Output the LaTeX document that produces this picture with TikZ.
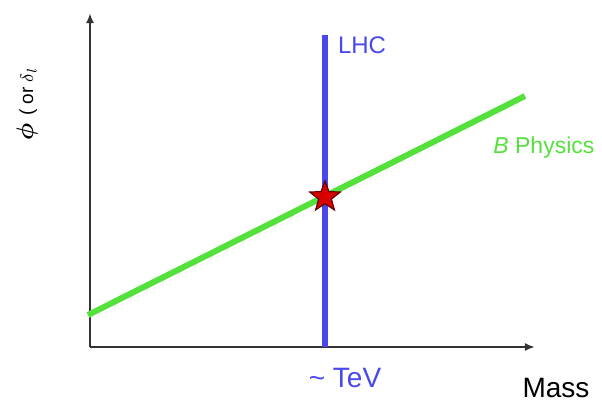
\documentclass[tikz,border=0pt]{standalone}
\usepackage{amsmath}
\usepackage{fontspec}
\setmainfont{Liberation Sans}
\usetikzlibrary{shapes.geometric,arrows.meta}

\definecolor{lhcblue}{RGB}{72,72,235}
\definecolor{bgreen}{RGB}{85,225,60}

\tikzset{
  axis/.style={draw=black!80,line width=1pt,-{Latex[length=5pt,width=4pt]}},
  lhcline/.style={draw=lhcblue,line width=2.6pt},
  bline/.style={draw=bgreen,line width=3pt},
}

\begin{document}
\begin{tikzpicture}[x=0.5pt,y=-0.5pt]
\useasboundingbox (0,0) rectangle (602,403);

%%%%%%%%%%%%%%%%%%%%%%%%
% axes
%%%%%%%%%%%%%%%%%%%%%%%%

\coordinate(O) at (90,347);
\coordinate(ytop) at (90,13);
\coordinate(xend) at (535,347);

\draw[axis] (O) -- (ytop);
\draw[axis] (O) -- (xend);

\node(mass) at (556,388) {\fontsize{14}{16}\selectfont Mass};
\node(phi) at (27,104) [rotate=90] {\fontsize{13}{15}\selectfont $\boldsymbol{\phi}$ {\fontsize{9.5}{11}\selectfont ( or $\delta_l$}};

%%%%%%%%%%%%%%%%%%%%%%%%
% B physics line
%%%%%%%%%%%%%%%%%%%%%%%%

\coordinate(bl) at (88,315);
\coordinate(br) at (525,96);

\draw[bline] (bl) -- (br);

\node(bphys)[anchor=west,text=bgreen,inner sep=0pt] at (493,148) {\fontsize{11.5}{13}\selectfont\textit{B} Physics};

%%%%%%%%%%%%%%%%%%%%%%%%
% LHC line
%%%%%%%%%%%%%%%%%%%%%%%%

\coordinate(lhcb) at (325,347);
\coordinate(lhct) at (325,35);

\draw[lhcline] (lhcb) -- (lhct);

\node(lhc)[anchor=west,text=lhcblue] at (331,45) {\fontsize{12}{14}\selectfont LHC};
\node(tev)[text=lhcblue] at (345,378) {\fontsize{14}{16}\selectfont \char`\~\ TeV};

\node(star)[star,star points=5,star point ratio=2.4,minimum size=16pt,inner sep=0pt,
  fill=red!85!black,draw=red!40!black,line width=0.6pt] at (325,197) {};

\end{tikzpicture}
\end{document}
